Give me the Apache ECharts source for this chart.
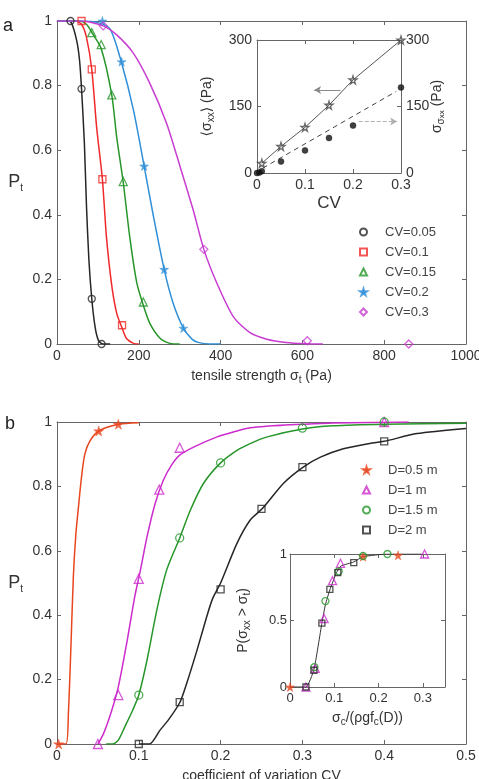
<!DOCTYPE html>
<html><head><meta charset="utf-8">
<script src="https://cdn.jsdelivr.net/npm/echarts@6/dist/echarts.min.js"></script>
<style>html,body{margin:0;padding:0;background:#fff}#c{width:479px;height:779px}</style>
</head><body><div id="c"></div>
<script>
// ---------- Panel a: P_t vs tensile strength ----------
const aNames = ['CV=0.05', 'CV=0.1', 'CV=0.15', 'CV=0.2', 'CV=0.3'];
const aCV005Pts = [[33,1],[60,0.79],[85,0.14],[109,0]];
const aCV01Pts  = [[60,1],[85,0.85],[111,0.51],[159,0.058]];
const aCV015Pts = [[85,0.964],[108,0.927],[134,0.771],[162,0.503],[211,0.13]];
const aCV02Pts  = [[111,1],[158,0.874],[213,0.551],[262,0.231],[309,0.049]];
const aCV03Pts  = [[113,0.985],[359,0.293],[612,0.01],[860,0]];
const aCV005Curve = [[0,1],[25,1],[35,0.995],[48,0.94],[55,0.88],[60,0.79],[67,0.62],[72,0.43],[78,0.26],[85,0.14],[93,0.054],[101,0.012],[110,0.001],[130,0]];
const aCV01Curve  = [[0,1],[45,1],[60,0.99],[72,0.95],[85,0.85],[97,0.67],[111,0.51],[121,0.33],[134,0.18],[146,0.095],[159,0.05],[170,0.017],[187,0.002],[200,0]];
const aCV015Curve = [[0,1],[55,1],[72,0.99],[85,0.965],[108,0.915],[134,0.77],[146,0.64],[162,0.5],[178,0.33],[195,0.19],[211,0.12],[227,0.064],[252,0.018],[276,0.002],[300,0]];
const aCV02Curve  = [[0,1],[65,1],[100,0.995],[130,0.975],[158,0.87],[187,0.724],[213,0.551],[236,0.394],[262,0.231],[284,0.126],[309,0.049],[330,0.015],[345,0.005],[374,0],[400,0]];
const aCV03Curve  = [[0,1],[60,1],[113,0.985],[146,0.957],[187,0.9],[227,0.807],[268,0.683],[301,0.549],[333,0.415],[359,0.293],[391,0.188],[431,0.085],[472,0.035],[513,0.015],[560,0.005],[610,0.001],[650,0]];
const aXTicks = {min:0, max:1000, interval:200};
const aYTicks = {min:0, max:1, interval:0.2};

// ---------- Inset a: mean and std of sigma_xx vs CV ----------
const iaStars = [[0.01,22],[0.05,60],[0.1,103],[0.15,153],[0.2,210],[0.3,300]];
const iaDots  = [[0,0],[0.005,1],[0.01,4],[0.05,26],[0.1,51],[0.15,79],[0.2,107],[0.3,193]];
const iaFit   = [[0.012,11],[0.29,184]];
const iaArrowLeft  = [[0.174,187],[0.119,187]];
const iaArrowRight = [[0.212,116],[0.292,116]];
const iaXTicks = {min:0, max:0.3, interval:0.1};
const iaYTicks = {min:0, max:300, interval:150};

// ---------- Panel b: P_t vs CV ----------
const bNames = ['D=0.5 m', 'D=1 m', 'D=1.5 m', 'D=2 m'];
const bD05Pts = [[0.002,0],[0.051,0.972],[0.075,0.993]];
const bD1Pts  = [[0.05,0],[0.075,0.152],[0.1,0.513],[0.125,0.79],[0.15,0.92],[0.4,1.0]];
const bD15Pts = [[0.1,0.152],[0.15,0.64],[0.2,0.873],[0.3,0.981],[0.4,1.0]];
const bD2Pts  = [[0.1,0],[0.15,0.13],[0.2,0.48],[0.25,0.73],[0.3,0.86],[0.4,0.94]];
const bD05Curve = [[0,0],[0.011,0],[0.014,0.1],[0.017,0.3],[0.02,0.52],[0.023,0.65],[0.026,0.73],[0.03,0.83],[0.034,0.9],[0.04,0.94],[0.051,0.972],[0.075,0.993],[0.1,0.998]];
const bD1Curve  = [[0.05,0],[0.057,0.033],[0.067,0.105],[0.075,0.178],[0.085,0.31],[0.095,0.457],[0.102,0.54],[0.11,0.643],[0.12,0.747],[0.13,0.819],[0.14,0.866],[0.15,0.897],[0.167,0.922],[0.195,0.953],[0.22,0.972],[0.236,0.982],[0.256,0.987],[0.3,0.993],[0.337,0.997],[0.43,1.0]];
const bD15Curve = [[0.06,0],[0.068,0],[0.075,0.012],[0.083,0.054],[0.0925,0.105],[0.1,0.152],[0.11,0.26],[0.122,0.416],[0.134,0.54],[0.15,0.64],[0.163,0.726],[0.179,0.809],[0.2,0.873],[0.22,0.912],[0.236,0.933],[0.256,0.953],[0.3,0.978],[0.337,0.988],[0.4,0.993],[0.5,0.996]];
const bD2Curve  = [[0.1,0],[0.113,0],[0.126,0.043],[0.136,0.074],[0.15,0.128],[0.1585,0.188],[0.171,0.29],[0.183,0.395],[0.19,0.45],[0.2,0.5],[0.22,0.623],[0.236,0.695],[0.251,0.731],[0.277,0.81],[0.301,0.86],[0.322,0.891],[0.35,0.917],[0.379,0.932],[0.4,0.94],[0.44,0.964],[0.5,0.98]];
const bXTicks = {min:0, max:0.5, interval:0.1};
const bYTicks = {min:0, max:1, interval:0.2};

// ---------- Inset b: collapse ----------
const ibD05 = [[0,0],[0.165,0.98],[0.244,0.99]];
const ibD1  = [[0.036,0],[0.057,0.14],[0.077,0.515],[0.096,0.8],[0.114,0.93],[0.304,1]];
const ibD15 = [[0.055,0.15],[0.08,0.646],[0.11,0.87],[0.165,0.985],[0.22,1.0]];
const ibD2  = [[0.036,0],[0.054,0.126],[0.072,0.48],[0.09,0.734],[0.108,0.86],[0.144,0.935]];
const ibCurve = [[0,0],[0.036,0],[0.054,0.13],[0.072,0.48],[0.08,0.62],[0.09,0.73],[0.105,0.86],[0.115,0.91],[0.144,0.94],[0.165,0.98],[0.22,1.0],[0.3,1.0]];
const ibXTicks = {min:0, max:0.35, interval:0.1};
const ibYTicks = {min:0, max:1, interval:0.5};

// ---------- styling ----------
const FONT = 'Liberation Sans, Arial, DejaVu Sans, sans-serif';
const AX = '#666';
const TXT = '#333';
const C = {black:'#262626', red:'#f02a2a', green:'#27962a', blue:'#2f8fd8', magenta:'#c83cd0', orange:'#e8461e', mag2:'#cc2ccc', gray:'#555'};
const STAR = 'path://M50,0 L61,35 L98,35 L68,57 L79,91 L50,70 L21,91 L32,57 L2,35 L39,35 Z';
const subRich = {
  s: {fontSize: 10, lineHeight: 10, verticalAlign: 'bottom', fontFamily: FONT, color: TXT},
  ss: {fontSize: 8, lineHeight: 6, verticalAlign: 'bottom', fontFamily: FONT, color: TXT}
};

function axis(grid, ticks, pos, opts) {
  opts = opts || {};
  return Object.assign({
    type: 'value', gridIndex: grid, position: pos,
    min: ticks.min, max: ticks.max, interval: ticks.interval,
    nameMoveOverlap: false,
    axisLine: {show: true, onZero: false, lineStyle: {color: AX, width: 1}},
    axisTick: {show: true, inside: true, length: 4, lineStyle: {color: AX}},
    splitLine: {show: false},
    axisLabel: {show: opts.labels !== false, color: TXT, fontSize: opts.fs || 14, fontFamily: FONT, margin: opts.margin || 5,
      showMaxLabel: opts.showMax !== false, formatter: function (v) { return String(+v.toFixed(3)); }},
  }, opts.extra || {});
}
function nameStyle(fs, lh) {
  return {fontSize: fs, color: TXT, fontFamily: FONT, lineHeight: lh || fs + 4, rich: subRich};
}

const xAxes = [
  axis(0, aXTicks, 'bottom', {extra: {name: 'tensile strength σ{s|t} (Pa)', nameLocation: 'middle', nameGap: 23, nameTextStyle: nameStyle(14)}}),
  axis(0, aXTicks, 'top', {labels: false}),
  axis(1, iaXTicks, 'bottom', {fs: 14, extra: {name: 'CV', nameLocation: 'middle', nameGap: 20, nameTextStyle: nameStyle(17)}}),
  axis(1, iaXTicks, 'top', {labels: false}),
  axis(2, bXTicks, 'bottom', {extra: {name: 'coefficient of variation CV', nameLocation: 'middle', nameGap: 23, nameTextStyle: nameStyle(14)}}),
  axis(2, bXTicks, 'top', {labels: false}),
  axis(3, ibXTicks, 'bottom', {fs: 13, showMax: false, extra: {name: 'σ{s|c}/(ρgf{s|c}(D))', nameLocation: 'middle', nameGap: 22, nameTextStyle: nameStyle(14)}}),
  axis(3, ibXTicks, 'top', {labels: false})
];
const yAxes = [
  axis(0, aYTicks, 'left', {extra: {name: 'P{s|t}', nameLocation: 'middle', nameRotate: 0, nameGap: 34, nameTextStyle: nameStyle(18)}}),
  axis(0, aYTicks, 'right', {labels: false}),
  axis(1, iaYTicks, 'left', {fs: 14, extra: {name: '⟨σ{s|xx}⟩ (Pa)', nameLocation: 'middle', nameRotate: 90, nameGap: 41, nameTextStyle: nameStyle(14)}}),
  axis(1, iaYTicks, 'right', {fs: 14, extra: {name: 'σ{s|σ}{ss|xx} (Pa)', nameLocation: 'middle', nameRotate: 90, nameGap: 27, nameTextStyle: nameStyle(14)}}),
  axis(2, bYTicks, 'left', {extra: {name: 'P{s|t}', nameLocation: 'middle', nameRotate: 0, nameGap: 34, nameTextStyle: nameStyle(18)}}),
  axis(2, bYTicks, 'right', {labels: false}),
  axis(3, ibYTicks, 'left', {fs: 13, margin: 3, extra: {name: 'P(σ{s|xx} > σ{s|t})', nameLocation: 'middle', nameRotate: 90, nameGap: 38, nameTextStyle: nameStyle(14)}}),
  axis(3, ibYTicks, 'right', {labels: false})
];

function lineS(name, data, color, xi, yi, w, extra) {
  return Object.assign({type: 'line', name: name, data: data, xAxisIndex: xi, yAxisIndex: yi,
    symbol: 'none', smooth: 0.25, lineStyle: {color: color, width: w || 1.5}, itemStyle: {color: color}, silent: true, z: 2, animation: false}, extra || {});
}
function scatS(name, data, symbol, color, size, hollow, xi, yi) {
  return {type: 'scatter', name: name, data: data, xAxisIndex: xi, yAxisIndex: yi,
    symbol: symbol, symbolSize: size, z: 3, silent: true, animation: false,
    itemStyle: hollow ? {color: 'rgba(255,255,255,0)', borderColor: color, borderWidth: 1.3} : {color: color, borderColor: color, borderWidth: 0.5}};
}

const series = [
  // panel a curves
  lineS('c1', aCV005Curve, C.black, 0, 0),
  lineS('c2', aCV01Curve, C.red, 0, 0),
  lineS('c3', aCV015Curve, C.green, 0, 0),
  lineS('c4', aCV02Curve, C.blue, 0, 0),
  lineS('c5', aCV03Curve, C.magenta, 0, 0),
  scatS(aNames[0], aCV005Pts, 'circle', C.black, 7, true, 0, 0),
  scatS(aNames[1], aCV01Pts, 'rect', C.red, 7, true, 0, 0),
  scatS(aNames[2], aCV015Pts, 'triangle', C.green, 8, true, 0, 0),
  scatS(aNames[3], aCV02Pts, STAR, C.blue, 9, false, 0, 0),
  scatS(aNames[4], aCV03Pts, 'diamond', C.magenta, 8, true, 0, 0),
  // inset a
  lineS('ia1', iaStars, '#555', 2, 2, 1, {smooth: false}),
  lineS('ia2', iaFit, '#444', 2, 3, 1, {smooth: false, lineStyle: {color: '#444', width: 1, type: [5, 4]}}),
  scatS('iaStars', iaStars, STAR, '#444', 8, true, 2, 2),
  scatS('iaDots', iaDots, 'circle', '#111', 6, false, 2, 3),
  lineS('iaArrows', [], '#888', 2, 2, 1, {markLine: {silent: true, symbol: ['none', 'arrow'], symbolSize: [6, 7], label: {show: false}, animation: false,
    data: [
      [{coord: iaArrowLeft[0], lineStyle: {color: '#8a8a8a', width: 1, type: 'solid'}}, {coord: iaArrowLeft[1]}],
      [{coord: iaArrowRight[0], lineStyle: {color: '#b0b0b0', width: 1.2, type: [4, 2]}}, {coord: iaArrowRight[1]}]
    ]}}),
  // panel b curves
  lineS('d1', bD05Curve, C.orange, 4, 4),
  lineS('d2', bD1Curve, C.mag2, 4, 4),
  lineS('d3', bD15Curve, C.green, 4, 4),
  lineS('d4', bD2Curve, C.black, 4, 4),
  scatS(bNames[0], bD05Pts, STAR, C.orange, 10, false, 4, 4),
  scatS(bNames[1], bD1Pts, 'triangle', C.mag2, 9, true, 4, 4),
  scatS(bNames[2], bD15Pts, 'circle', C.green, 8, true, 4, 4),
  scatS(bNames[3], bD2Pts, 'rect', C.black, 7, true, 4, 4),
  // inset b
  lineS('ib', ibCurve, '#333', 6, 6, 1, {smooth: 0.15}),
  scatS('ib05', ibD05, STAR, C.orange, 9, false, 6, 6),
  scatS('ib1', ibD1, 'triangle', C.mag2, 8, true, 6, 6),
  scatS('ib15', ibD15, 'circle', C.green, 7, true, 6, 6),
  scatS('ib2', ibD2, 'rect', C.black, 6, true, 6, 6)
];

const legendText = {fontSize: 13, color: '#444', fontFamily: FONT, lineHeight: 20, padding: [0, 0, 0, 13]};
const option = {
  backgroundColor: '#fff',
  animation: false,
  grid: [
    {left: 57, top: 21, width: 409, height: 323, outerBoundsMode: 'none', containLabel: false},
    {left: 257, top: 40, width: 144, height: 133, show: true, backgroundColor: '#fff', borderWidth: 0, outerBoundsMode: 'none', containLabel: false},
    {left: 57, top: 422, width: 409, height: 322, outerBoundsMode: 'none', containLabel: false},
    {left: 290, top: 554, width: 155, height: 133, show: true, backgroundColor: '#fff', borderWidth: 0, outerBoundsMode: 'none', containLabel: false}
  ],
  xAxis: xAxes,
  yAxis: yAxes,
  legend: [
    {data: aNames, orient: 'vertical', left: 359, top: 222, padding: 0, itemWidth: 7, itemHeight: 7, itemGap: 0, textStyle: legendText, selectedMode: false},
    {data: bNames, orient: 'vertical', left: 362, top: 460, padding: 0, itemWidth: 7, itemHeight: 7, itemGap: 0, textStyle: legendText, selectedMode: false}
  ],
  graphic: [
    {type: 'text', left: 3, top: 17, style: {text: 'a', fontSize: 18, fill: '#222', fontFamily: FONT}},
    {type: 'text', left: 5, top: 415, style: {text: 'b', fontSize: 18, fill: '#222', fontFamily: FONT}}
  ],
  series: series
};
const chart = echarts.init(document.getElementById('c'), null, {renderer: 'canvas'});
chart.setOption(option);
</script>
</body></html>
